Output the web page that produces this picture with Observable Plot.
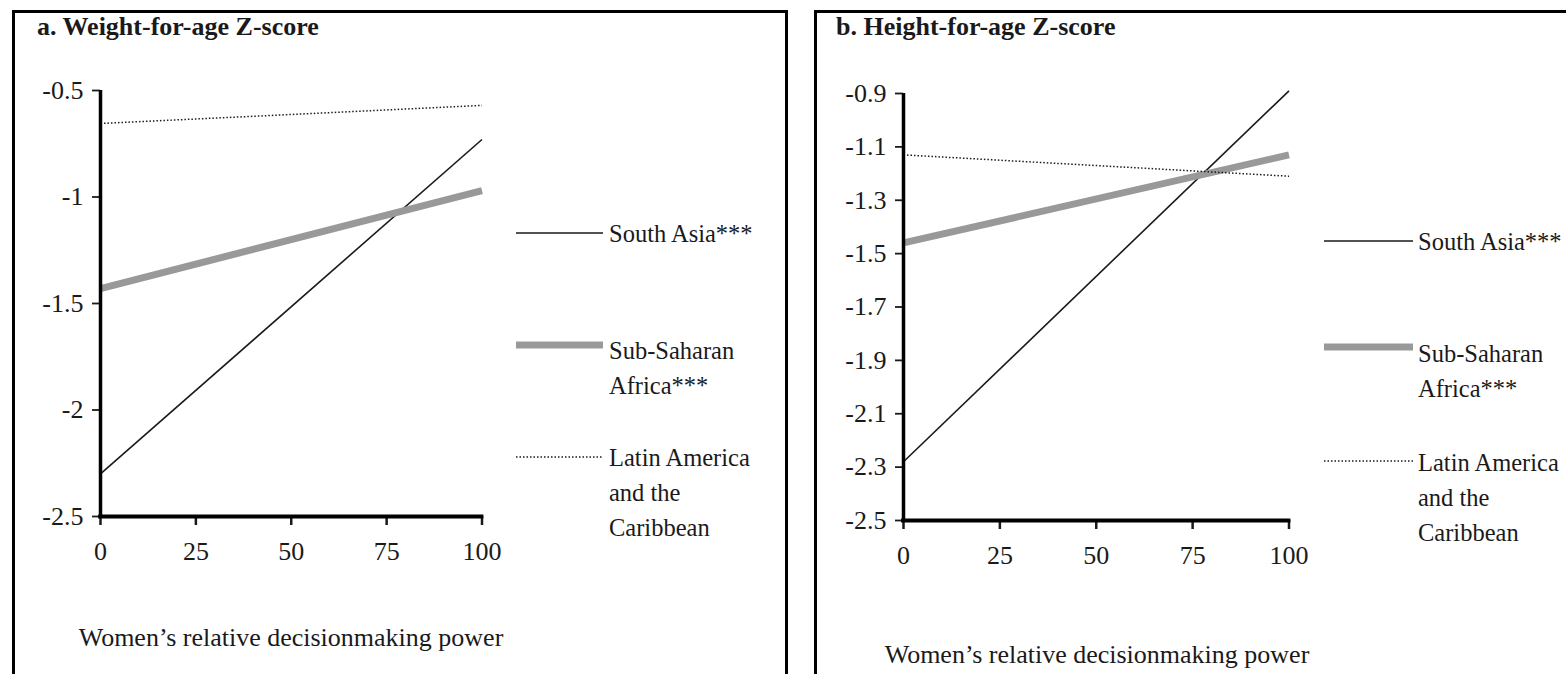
<!DOCTYPE html>
<html>
<head>
<meta charset="utf-8">
<script src="https://cdn.jsdelivr.net/npm/d3@7"></script>
<script src="https://cdn.jsdelivr.net/npm/@observablehq/plot@0.6"></script>
<style>
  html, body { margin: 0; padding: 0; background: #fff; overflow: hidden; }
  #page { position: relative; width: 1566px; height: 674px; overflow: hidden; font-family: "Liberation Serif", "Times New Roman", serif; color: #1a1a1a; }
  .panel { position: absolute; border: 3px solid #000; box-sizing: border-box; }
  .abs { position: absolute; white-space: nowrap; }
  .title { font-weight: bold; font-size: 26px; line-height: 30px; }
  .xlab { font-size: 26px; line-height: 30px; text-align: center; width: 600px; }
  .leg { font-size: 24.5px; line-height: 35px; }
</style>
</head>
<body>
<div id="page"></div>
<script>
// ---- data ----
const xValues = [0, 100];
const xTicks = [0, 25, 50, 75, 100];

const seriesNames = ["South Asia***", "Sub-Saharan Africa***", "Latin America and the Caribbean"];

// Panel a: Weight-for-age Z-score
const titleA = "a. Weight-for-age Z-score";
const yTicksA = [-0.5, -1, -1.5, -2, -2.5];
const southAsiaA = [-2.30, -0.73];
const ssAfricaA = [-1.43, -0.97];
const latAmA = [-0.655, -0.57];

// Panel b: Height-for-age Z-score
const titleB = "b. Height-for-age Z-score";
const yTicksB = [-0.9, -1.1, -1.3, -1.5, -1.7, -1.9, -2.1, -2.3, -2.5];
const southAsiaB = [-2.28, -0.89];
const ssAfricaB = [-1.46, -1.13];
const latAmB = [-1.13, -1.21];

const xLabel = "Women\u2019s relative decisionmaking power";
const legendLines = [["South Asia***"], ["Sub-Saharan", "Africa***"], ["Latin America", "and the", "Caribbean"]];

// ---- styles ----
const styles = {
  "South Asia***": {stroke: "#1a1a1a", strokeWidth: 1.6, dash: null},
  "Sub-Saharan Africa***": {stroke: "#999999", strokeWidth: 7, dash: null},
  "Latin America and the Caribbean": {stroke: "#1a1a1a", strokeWidth: 1.5, dash: "1.5,2"}
};

const page = document.getElementById("page");

function add(cls, text, left, top, extra) {
  const d = document.createElement("div");
  d.className = "abs " + cls;
  d.innerHTML = text;
  d.style.left = left + "px";
  d.style.top = top + "px";
  if (extra) Object.assign(d.style, extra);
  page.appendChild(d);
  return d;
}

function panel(cfg) {
  const pb = document.createElement("div");
  pb.className = "panel";
  Object.assign(pb.style, {left: cfg.box[0] + "px", top: cfg.box[1] + "px", width: cfg.box[2] + "px", height: cfg.box[3] + "px"});
  page.appendChild(pb);

  const rows = [];
  const vals = [cfg.sa, cfg.ssa, cfg.la];
  seriesNames.forEach((s, i) => xValues.forEach((x, j) => rows.push({series: s, x, y: vals[i][j]})));

  const yDom = [d3.min(cfg.yTicks), d3.max(cfg.yTicks)];
  const marks = seriesNames.map(s => Plot.line(rows.filter(r => r.series === s), {
    x: "x", y: "y",
    stroke: styles[s].stroke, strokeWidth: styles[s].strokeWidth,
    strokeDasharray: styles[s].dash, strokeLinecap: "butt"
  }));

  const chart = Plot.plot({
    width: cfg.w, height: cfg.h,
    marginLeft: cfg.ml, marginRight: cfg.mr, marginTop: cfg.mt, marginBottom: cfg.mb,
    style: {fontFamily: "Liberation Serif, Times New Roman, serif", fontSize: "26px", color: "#1a1a1a", background: "transparent", overflow: "visible"},
    x: {domain: [0, 100]},
    y: {domain: yDom},
    marks: [
      Plot.axisY({ticks: cfg.yTicks, tickSize: 8, tickPadding: 9, tickFormat: d => String(d), strokeWidth: 1.8, label: null, fontSize: 26}),
      Plot.axisX({ticks: xTicks, tickSize: 9, tickPadding: 16, tickFormat: d => String(d), strokeWidth: 2.5, label: null, fontSize: 26}),
      ...marks,
      Plot.ruleX([0], {y1: yDom[0], y2: yDom[1], stroke: "#000", strokeWidth: 3.5}),
      Plot.ruleY([yDom[0]], {x1: -0.5, x2: 100.5, stroke: "#000", strokeWidth: 4})
    ]
  });
  chart.style.position = "absolute";
  chart.style.left = cfg.left + "px";
  chart.style.top = "0px";
  page.appendChild(chart);

  add("title", cfg.title, cfg.titlePos[0], cfg.titlePos[1]);
  add("xlab", xLabel, cfg.xlabPos[0] - 300, cfg.xlabPos[1] - 15);

  // legend
  seriesNames.forEach((s, i) => {
    const ly = cfg.legY[i];
    const svg = d3.create("svg").attr("width", cfg.legX1 - cfg.legX0).attr("height", 12)
      .style("position", "absolute").style("left", cfg.legX0 + "px").style("top", (ly - 6) + "px");
    svg.append("line").attr("x1", 0).attr("x2", cfg.legX1 - cfg.legX0).attr("y1", 6).attr("y2", 6)
      .attr("stroke", styles[s].stroke).attr("stroke-width", styles[s].strokeWidth)
      .attr("stroke-dasharray", styles[s].dash);
    page.appendChild(svg.node());
    add("leg", legendLines[i].join("<br>"), cfg.legTextX, cfg.legTextY[i] - 17.5);
  });
}

panel({
  box: [12, 10, 776, 720],
  left: 0, w: 530, h: 600, ml: 100, mr: 48.5, mt: 90, mb: 84,
  yTicks: yTicksA, sa: southAsiaA, ssa: ssAfricaA, la: latAmA,
  title: titleA, titlePos: [37, 12], xlabPos: [291, 638],
  legX0: 516, legX1: 603, legY: [233, 345, 457], legTextX: 609, legTextY: [233, 350, 457]
});

panel({
  box: [814, 10, 820, 720],
  left: 800, w: 530, h: 600, ml: 103, mr: 41.5, mt: 93, mb: 80,
  yTicks: yTicksB, sa: southAsiaB, ssa: ssAfricaB, la: latAmB,
  title: titleB, titlePos: [836, 12], xlabPos: [1097, 655],
  legX0: 1324, legX1: 1413, legY: [241, 347, 461], legTextX: 1418, legTextY: [241, 353, 462]
});
</script>
</body>
</html>
